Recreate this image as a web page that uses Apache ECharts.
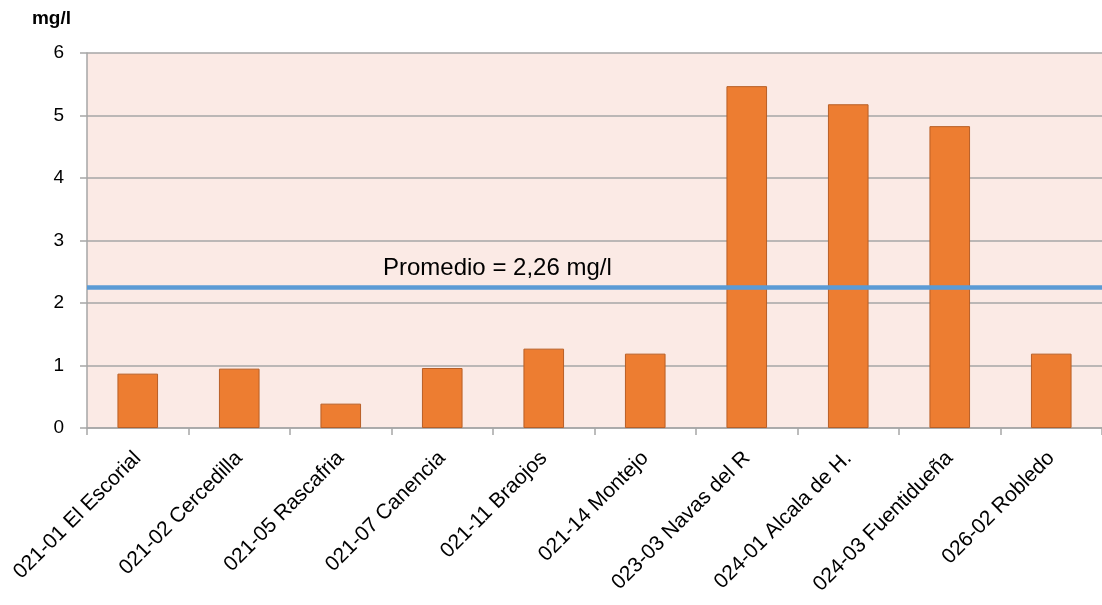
<!DOCTYPE html>
<html>
<head>
<meta charset="utf-8">
<script src="https://cdn.jsdelivr.net/npm/echarts@6/dist/echarts.min.js"></script>
<style>
  html, body { margin: 0; padding: 0; background: #ffffff; }
  #chart { width: 1102px; height: 605px; }
</style>
</head>
<body>
<div id="chart"></div>
<script>
// Estaciones de muestreo
const estaciones = [
  '021-01 El Escorial', '021-02 Cercedilla', '021-05 Rascafria', '021-07 Canencia',
  '021-11 Braojos', '021-14 Montejo', '023-03 Navas del R', '024-01 Alcala de H.',
  '024-03 Fuentidueña', '026-02 Robledo'
];
// Concentración medida (mg/l)
const concentracion = [0.87, 0.95, 0.39, 0.96, 1.27, 1.19, 5.47, 5.18, 4.83, 1.19];
// Valor medio indicado en el gráfico
const promedio = 2.26;
const yTicks = [0, 1, 2, 3, 4, 5, 6];

const FONT = 'Liberation Sans';
const chart = echarts.init(document.getElementById('chart'), null, { renderer: 'canvas' });

chart.setOption({
  animation: false,
  backgroundColor: '#ffffff',
  textStyle: { fontFamily: FONT },
  grid: {
    left: 87, right: 0, top: 53, bottom: 177,
    show: true, backgroundColor: '#fbeae5', borderWidth: 0
  },
  xAxis: {
    type: 'category',
    data: estaciones,
    axisLine: { lineStyle: { color: '#a6a6a6', width: 1.5 } },
    axisTick: { show: true, length: 7, alignWithLabel: false, lineStyle: { color: '#a6a6a6', width: 1.5 } },
    axisLabel: { rotate: 45, color: '#000000', fontSize: 21, fontFamily: FONT, margin: 27, interval: 0 }
  },
  yAxis: {
    type: 'value',
    min: yTicks[0], max: yTicks[yTicks.length - 1], interval: 1,
    name: 'mg/l',
    nameLocation: 'end',
    nameGap: 25,
    nameTextStyle: { color: '#000000', fontWeight: 'bold', fontSize: 19, fontFamily: FONT, align: 'right', padding: [0, 16, 0, 0] },
    axisLine: { show: true, lineStyle: { color: '#a6a6a6', width: 1.5 } },
    axisTick: { show: true, length: 7, lineStyle: { color: '#a6a6a6', width: 1.5 } },
    axisLabel: { color: '#000000', fontSize: 19, fontFamily: FONT, margin: 23 },
    splitLine: { show: true, lineStyle: { color: '#a6a6a6', width: 1.5 } }
  },
  series: [{
    type: 'bar',
    data: concentracion,
    barWidth: '40%',
    itemStyle: { color: '#ed7d31', borderColor: '#b85f26', borderWidth: 1 },
    markLine: {
      silent: true,
      symbol: 'none',
      data: [{ yAxis: promedio }],
      lineStyle: { color: '#5b9bd5', width: 4.5, type: 'solid' },
      label: {
        show: true,
        position: 'insideStartTop',
        distance: [296, 6],
        formatter: 'Promedio = 2,26 mg/l',
        color: '#000000',
        fontSize: 24,
        fontFamily: FONT
      }
    }
  }]
});
</script>
</body>
</html>
